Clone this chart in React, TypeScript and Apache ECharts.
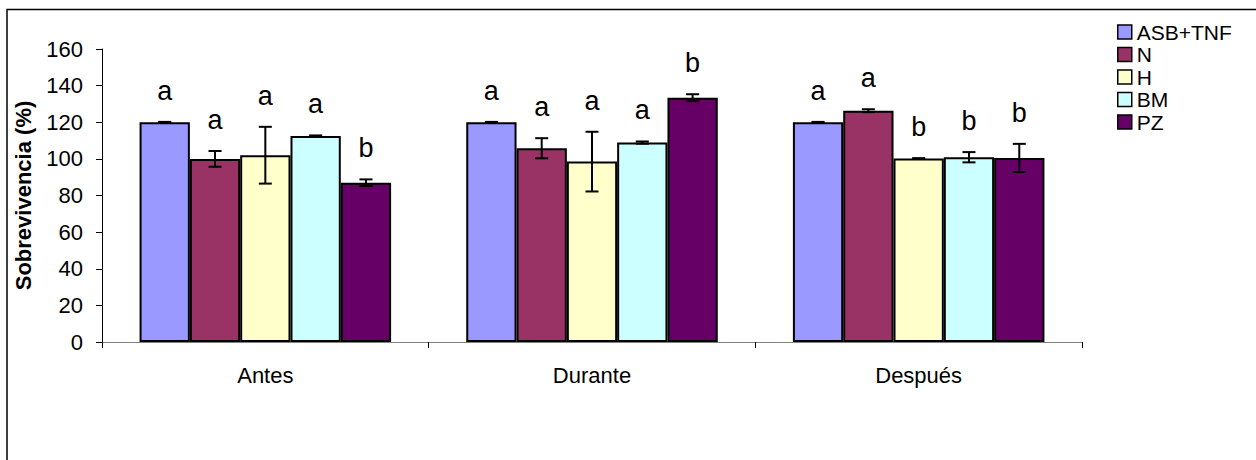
import React, { useEffect, useRef } from "react";
import * as echarts from "echarts";

const categories = ["Antes", "Durante", "Después"];
const seriesNames = ["ASB+TNF", "N", "H", "BM", "PZ"];
const seriesColors = ["#9999FF", "#993366", "#FFFFCC", "#CCFFFF", "#660066"];

const asbValues = [120, 120, 120];
const nValues = [100, 105.8, 126.3];
const hValues = [102, 98.5, 100.2];
const bmValues = [112.5, 108.9, 100.9];
const pzValues = [87, 133.4, 100.5];

const asbErrors = [0.2, 0.2, 0.2];
const nErrors = [4.3, 5.5, 0.8];
const hErrors = [15.5, 16.3, 0.2];
const bmErrors = [0.3, 0.6, 2.8];
const pzErrors = [1.8, 1.9, 7.7];

const asbLetters = ["a", "a", "a"];
const nLetters = ["a", "a", "a"];
const hLetters = ["a", "a", "b"];
const bmLetters = ["a", "a", "b"];
const pzLetters = ["b", "b", "b"];

const yTicks = { min: 0, max: 160, interval: 20 };

const allValues = [asbValues, nValues, hValues, bmValues, pzValues];
const allErrors = [asbErrors, nErrors, hErrors, bmErrors, pzErrors];
const allLetters = [asbLetters, nLetters, hLetters, bmLetters, pzLetters];

const FONT = "'Liberation Sans', Arial, sans-serif";
const CAT_GAP = 0.23;

export default function App() {
  const ref = useRef<HTMLDivElement>(null);
  useEffect(() => {
    if (!ref.current) return;
    const chart = echarts.init(ref.current, undefined, { renderer: "svg" });
    const n = seriesNames.length;

    const barSeries = seriesNames.map((name, s) => ({
      name,
      type: "bar",
      data: allValues[s],
      barGap: "0%",
      barCategoryGap: CAT_GAP * 100 + "%",
      itemStyle: { color: seriesColors[s], borderColor: "#000", borderWidth: 2 },
      z: 2,
    }));

    const errSeries = seriesNames.map((name, s) => ({
      name: "err-" + name,
      type: "custom",
      z: 5,
      data: allValues[s].map((v, c) => [c, v + allErrors[s][c], v - allErrors[s][c]]),
      renderItem: (params: any, api: any) => {
        const c = api.value(0);
        const hi = api.value(1);
        const lo = api.value(2);
        const band = api.size([1, 0])[0];
        const bw = (band * (1 - CAT_GAP)) / n;
        const cx = api.coord([c, 0])[0] + (s - (n - 1) / 2) * bw;
        const yHi = api.coord([c, hi])[1];
        const yLo = api.coord([c, lo])[1];
        const cap = 6.5;
        const st = { stroke: "#000", lineWidth: 2 };
        return {
          type: "group",
          children: [
            { type: "line", shape: { x1: cx, y1: yHi, x2: cx, y2: yLo }, style: st },
            { type: "line", shape: { x1: cx - cap, y1: yHi, x2: cx + cap, y2: yHi }, style: st },
            { type: "line", shape: { x1: cx - cap, y1: yLo, x2: cx + cap, y2: yLo }, style: st },
            {
              type: "text",
              style: {
                x: cx,
                y: yHi - 31,
                text: allLetters[s][params.dataIndex],
                fill: "#000",
                font: "27px " + FONT,
                align: "center",
                verticalAlign: "middle",
              },
            },
          ],
        };
      },
    }));

    chart.setOption({
      animation: false,
      backgroundColor: "#fff",
      textStyle: { fontFamily: FONT, color: "#000" },
      grid: { left: 102, top: 49, right: 174, bottom: 118 },
      legend: {
        data: seriesNames,
        orient: "vertical",
        left: 1117,
        top: 21,
        padding: 0,
        itemWidth: 14,
        itemHeight: 14,
        itemGap: 0.5,
        icon: "rect",
        itemStyle: { borderColor: "#000", borderWidth: 1.5 },
        textStyle: { fontSize: 21, fontFamily: FONT, color: "#000", lineHeight: 22 },
      },
      xAxis: {
        type: "category",
        data: categories,
        axisLine: { lineStyle: { color: "#808080", width: 1 } },
        axisTick: { show: true, length: 6, lineStyle: { color: "#000" } },
        axisLabel: { fontSize: 22, color: "#000", margin: 22, fontFamily: FONT },
        splitLine: { show: false },
      },
      yAxis: {
        type: "value",
        min: yTicks.min,
        max: yTicks.max,
        interval: yTicks.interval,
        name: "Sobrevivencia (%)",
        nameLocation: "middle",
        nameGap: 68,
        nameTextStyle: { fontSize: 22, fontWeight: "bold", color: "#000", fontFamily: FONT },
        axisLine: { show: true, lineStyle: { color: "#000", width: 1 } },
        axisTick: { show: true, length: 6, lineStyle: { color: "#000" } },
        axisLabel: { fontSize: 22, color: "#000", margin: 19, fontFamily: FONT },
        splitLine: { show: false },
      },
      graphic: [
        {
          type: "rect",
          shape: { x: 7, y: 9.5, width: 1400, height: 600 },
          style: { fill: "none", stroke: "#000", lineWidth: 1.5 },
          silent: true,
          z: 0,
        },
      ],
      series: [...barSeries, ...errSeries],
    });
    return () => chart.dispose();
  }, []);
  return (
    <div
      ref={ref}
      style={{ position: "fixed", left: 0, top: 0, width: 1256, height: 460 }}
    />
  );
}
